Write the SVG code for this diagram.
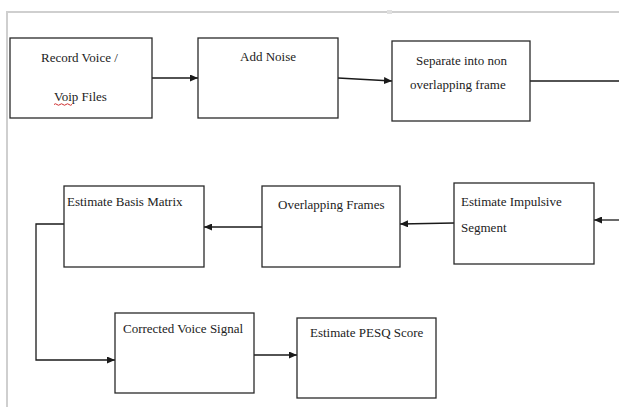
<svg xmlns="http://www.w3.org/2000/svg" width="619" height="407" viewBox="0 0 619 407">
<defs>
<style>
.box{fill:#fff;stroke:#2a2a2a;stroke-width:1.3}
.lbl{font-family:'Liberation Serif','Times New Roman','DejaVu Serif',serif;font-size:13px;fill:#222}
.con{fill:none;stroke:#1a1a1a;stroke-width:1.3}
.page{stroke:#cfcfcf;stroke-width:2;fill:none}
</style>
<marker id="ah" markerUnits="userSpaceOnUse" markerWidth="8" markerHeight="7" refX="8" refY="3.5" orient="auto">
<path d="M0,0 L8,3.5 L0,7 z" fill="#1a1a1a"/>
</marker>
</defs>
<rect width="619" height="407" fill="#fff"/>
<g id="page">
<path class="page" d="M7,407 V12 H619"/>
<rect x="387" y="10" width="5" height="4" fill="#e0e0e0"/>
</g>
<g id="connectors">
<line class="con" x1="152" y1="78" x2="198" y2="78" marker-end="url(#ah)"/>
<line class="con" x1="338" y1="78" x2="392" y2="81" marker-end="url(#ah)"/>
<line class="con" x1="530" y1="81" x2="619" y2="81"/>
<line class="con" x1="619" y1="220" x2="594" y2="220" marker-end="url(#ah)"/>
<line class="con" x1="454" y1="223" x2="400" y2="224" marker-end="url(#ah)"/>
<line class="con" x1="262" y1="227" x2="204" y2="227" marker-end="url(#ah)"/>
<polyline class="con" points="64,224 36,224 36,360 115,360" marker-end="url(#ah)"/>
<line class="con" x1="254" y1="355" x2="297" y2="355" marker-end="url(#ah)"/>
</g>
<g font-family="Liberation Serif, serif" font-size="13">
<g id="record">
<rect class="box" x="10" y="38" width="142" height="80"/>
<text class="lbl" x="41" y="62">Record Voice /</text>
<text class="lbl" x="54" y="101">Voip Files</text>
<path d="M54,104.5 q1.5,-1.5 3,0 t3,0 t3,0 t3,0 t3,0 t3,0" fill="none" stroke="#d03030" stroke-width="1"/>
</g>
<g id="addnoise">
<rect class="box" x="198" y="38" width="140" height="80"/>
<text class="lbl" x="240" y="61">Add Noise</text>
</g>
<g id="separate">
<rect class="box" x="392" y="41" width="138" height="80"/>
<text class="lbl" x="416" y="65">Separate into non</text>
<text class="lbl" x="410" y="89">overlapping frame</text>
</g>
<g id="impulsive">
<rect class="box" x="454" y="183" width="140" height="81"/>
<text class="lbl" x="461" y="206">Estimate Impulsive</text>
<text class="lbl" x="461" y="232">Segment</text>
</g>
<g id="overlapping">
<rect class="box" x="262" y="186" width="138" height="81"/>
<text class="lbl" x="278" y="209">Overlapping Frames</text>
</g>
<g id="basis">
<rect class="box" x="64" y="186" width="140" height="81"/>
<text class="lbl" x="67" y="206">Estimate Basis Matrix</text>
</g>
<g id="corrected">
<rect class="box" x="115" y="313" width="139" height="80"/>
<text class="lbl" x="123" y="333">Corrected Voice Signal</text>
</g>
<g id="pesq">
<rect class="box" x="297" y="318" width="139" height="80"/>
<text class="lbl" x="310" y="337">Estimate PESQ Score</text>
</g>
</g>
</svg>
